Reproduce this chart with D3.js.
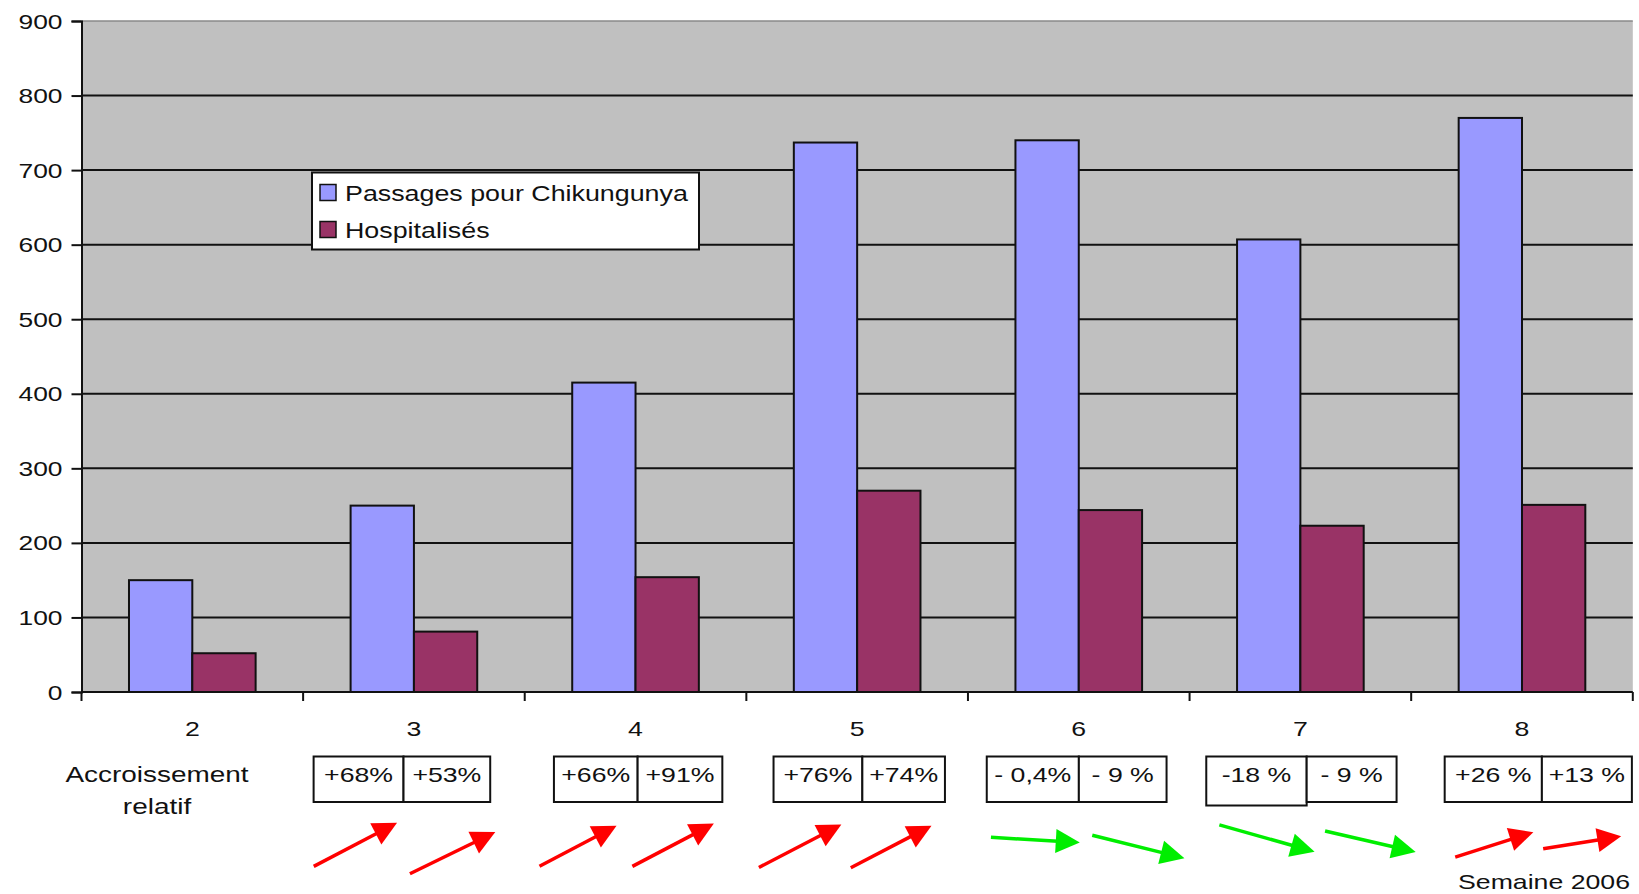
<!DOCTYPE html>
<html>
<head>
<meta charset="utf-8">
<script src="https://cdn.jsdelivr.net/npm/d3@7/dist/d3.min.js"></script>
<style>
  html, body { margin: 0; padding: 0; background: #ffffff; }
  svg { display: block; }
  text { font-family: "Liberation Sans", Arial, sans-serif; fill: #111; }
</style>
</head>
<body>
<svg id="chart" width="1639" height="894"></svg>
<script>
// ---- data ----
const weeks = ["2", "3", "4", "5", "6", "7", "8"];
const passages = [150, 250, 415, 737, 740, 607, 770];
const hospitalises = [52, 81, 154, 270, 244, 223, 251];
const seriesNames = ["Passages pour Chikungunya", "Hospitalisés"];
const yTicks = [0, 100, 200, 300, 400, 500, 600, 700, 800, 900];

// week-on-week relative change (passages, hospitalised)
const changeWeeks = ["3", "4", "5", "6", "7", "8"];
const changePassages = ["+68%", "+66%", "+76%", "- 0,4%", "-18 %", "+26 %"];
const changeHosp = ["+53%", "+91%", "+74%", "- 9 %", "- 9 %", "+13 %"];

// ---- layout ----
const plot = { left: 81.5, right: 1632.8, top: 21, bottom: 692 };
const colors = { passages: "#9999ff", hosp: "#993366", bg: "#c0c0c0", up: "#ff0000", down: "#00ee00" };
const SX = 1.27; // horizontal widening of the lettering

// box cells relative to the start of each week's band: [left, divider, right]
const boxLayout = [
  [10.5, 100.4, 187.1], [29.2, 112.9, 197.6], [27.2, 116, 198.6],
  [18.8, 110.9, 198.6], [16.7, 117.1, 207], [33.5, 130.7, 220.7]
];
// trend arrows per cell: mid x (relative to band start), mid y, angle (deg), length
const arrowLayout = [
  [[52.3, 844.6, -27.6, 94], [149.5, 852.9, -26, 95]],
  [[53.3, 846, -27.7, 87], [148.4, 845, -27.7, 92]],
  [[53.8, 846, -27.5, 93], [144.8, 846.7, -27.5, 91]],
  [[67.4, 839.9, 3.3, 89], [170.4, 846.7, 14, 95]],
  [[77.4, 838.3, 15.8, 99], [180.8, 841.5, 13, 93]],
  [[83.1, 844.6, -17.7, 82], [171, 842.5, -9.1, 79]]
];

const svg = d3.select("#chart");

// text placed at (x, y) and widened horizontally around its anchor
function wideText(parent, x, y, str, size, anchor) {
  return parent.append("text")
    .attr("transform", `translate(${x},${y}) scale(${SX},1)`)
    .attr("text-anchor", anchor || "start")
    .style("font-size", size + "px")
    .text(str);
}

const x0 = d3.scaleBand().domain(weeks).range([plot.left, plot.right]).paddingInner(0).paddingOuter(0);
const x1 = d3.scaleBand().domain(seriesNames).range([0, x0.bandwidth()]).paddingInner(0).paddingOuter(0.75);
const y = d3.scaleLinear().domain([0, 900]).range([plot.bottom, plot.top]);

// plot background
svg.append("rect")
  .attr("x", plot.left).attr("y", plot.top)
  .attr("width", plot.right - plot.left).attr("height", plot.bottom - plot.top)
  .attr("fill", colors.bg);

// top edge of plot area
svg.append("line")
  .attr("x1", plot.left).attr("x2", plot.right)
  .attr("y1", y(900)).attr("y2", y(900))
  .attr("stroke", "#8a8a8a").attr("stroke-width", 1.5);

// horizontal gridlines
svg.append("g")
  .selectAll("line")
  .data(yTicks.filter(d => d > 0 && d < 900))
  .join("line")
  .attr("x1", plot.left).attr("x2", plot.right)
  .attr("y1", d => y(d)).attr("y2", d => y(d))
  .attr("stroke", "#111").attr("stroke-width", 2);

// bars
const rows = weeks.map((w, i) => ({ week: w, values: [
  { key: seriesNames[0], v: passages[i], c: colors.passages },
  { key: seriesNames[1], v: hospitalises[i], c: colors.hosp }
]}));

svg.append("g")
  .selectAll("g")
  .data(rows)
  .join("g")
  .attr("transform", d => `translate(${x0(d.week)},0)`)
  .selectAll("rect")
  .data(d => d.values)
  .join("rect")
  .attr("x", d => x1(d.key))
  .attr("y", d => y(d.v))
  .attr("width", x1.bandwidth())
  .attr("height", d => y(0) - y(d.v))
  .attr("fill", d => d.c)
  .attr("stroke", "#111")
  .attr("stroke-width", 2);

// y axis
const yAxis = svg.append("g")
  .attr("transform", `translate(${plot.left},0)`)
  .call(d3.axisLeft(y).tickValues(yTicks).tickSize(10).tickPadding(9));
yAxis.select(".domain").attr("stroke", "#111").attr("stroke-width", 2);
yAxis.selectAll(".tick line").attr("stroke", "#111").attr("stroke-width", 2);
yAxis.selectAll(".tick text")
  .style("font-family", '"Liberation Sans", Arial, sans-serif')
  .style("font-size", "20px")
  .attr("fill", "#1a1a1a")
  .attr("x", null).attr("dy", null)
  .attr("transform", `translate(-19,7) scale(${SX + 0.05},1)`);

// x axis: line plus ticks at week boundaries
const boundaries = weeks.map(w => x0(w)).concat([plot.right]);
svg.append("line")
  .attr("x1", plot.left).attr("x2", plot.right)
  .attr("y1", plot.bottom).attr("y2", plot.bottom)
  .attr("stroke", "#111").attr("stroke-width", 2);
svg.append("g")
  .selectAll("line")
  .data(boundaries)
  .join("line")
  .attr("x1", d => d).attr("x2", d => d)
  .attr("y1", plot.bottom).attr("y2", plot.bottom + 9)
  .attr("stroke", "#111").attr("stroke-width", 2);

// week labels
const wk = svg.append("g");
weeks.forEach(w => wideText(wk, x0(w) + x0.bandwidth() / 2, 736, w, 21, "middle"));

// row caption
wideText(svg, 157, 782, "Accroissement", 22, "middle");
wideText(svg, 157, 814, "relatif", 22, "middle");

// relative-change boxes
const boxTop = 756.5, boxBottom = 802;
changeWeeks.forEach((w, i) => {
  const b0 = x0(w);
  const [l, m, r] = boxLayout[i];
  const g = svg.append("g");
  const tallLeft = (w === "7") ? 3.5 : 0;
  g.append("rect")
    .attr("x", b0 + l).attr("y", boxTop)
    .attr("width", m - l).attr("height", boxBottom - boxTop + tallLeft)
    .attr("fill", "#fff").attr("stroke", "#111").attr("stroke-width", 2);
  g.append("rect")
    .attr("x", b0 + m).attr("y", boxTop)
    .attr("width", r - m).attr("height", boxBottom - boxTop)
    .attr("fill", "#fff").attr("stroke", "#111").attr("stroke-width", 2);
  wideText(g, b0 + (l + m) / 2, 782, changePassages[i], 21, "middle");
  wideText(g, b0 + (m + r) / 2, 782, changeHosp[i], 21, "middle");

  // trend arrows: red when rising, green when falling
  [changePassages[i], changeHosp[i]].forEach((t, k) => {
    const [mx, my, ang, len] = arrowLayout[i][k];
    const col = t.trim().startsWith("+") ? colors.up : colors.down;
    const a = ang * Math.PI / 180;
    const ux = Math.cos(a), uy = Math.sin(a);
    const cx = b0 + mx;
    const sx = cx - ux * len / 2, sy = my - uy * len / 2;
    const ex = cx + ux * len / 2, ey = my + uy * len / 2;
    const head = 24, hw = 12;
    const bx = ex - ux * head, by = ey - uy * head;
    g.append("line")
      .attr("x1", sx).attr("y1", sy).attr("x2", bx + ux * 2).attr("y2", by + uy * 2)
      .attr("stroke", col).attr("stroke-width", 3.5);
    g.append("path")
      .attr("d", d3.line()([[ex, ey], [bx - uy * hw, by + ux * hw], [bx + uy * hw, by - ux * hw]]) + "Z")
      .attr("fill", col);
  });
});

// axis title
wideText(svg, 1544, 889, "Semaine 2006", 21, "middle");

// legend
const lg = svg.append("g").attr("transform", "translate(312,172.5)");
lg.append("rect")
  .attr("width", 387).attr("height", 77)
  .attr("fill", "#fff").attr("stroke", "#111").attr("stroke-width", 2);
seriesNames.forEach((name, i) => {
  lg.append("rect")
    .attr("x", 8).attr("y", 12 + i * 37)
    .attr("width", 16).attr("height", 16)
    .attr("fill", i === 0 ? colors.passages : colors.hosp)
    .attr("stroke", "#111").attr("stroke-width", 1.5);
  lg.append("text")
    .attr("transform", `translate(33,${28 + i * 37}) scale(1.22,1)`)
    .style("font-size", "22px")
    .text(name);
});
</script>
</body>
</html>
